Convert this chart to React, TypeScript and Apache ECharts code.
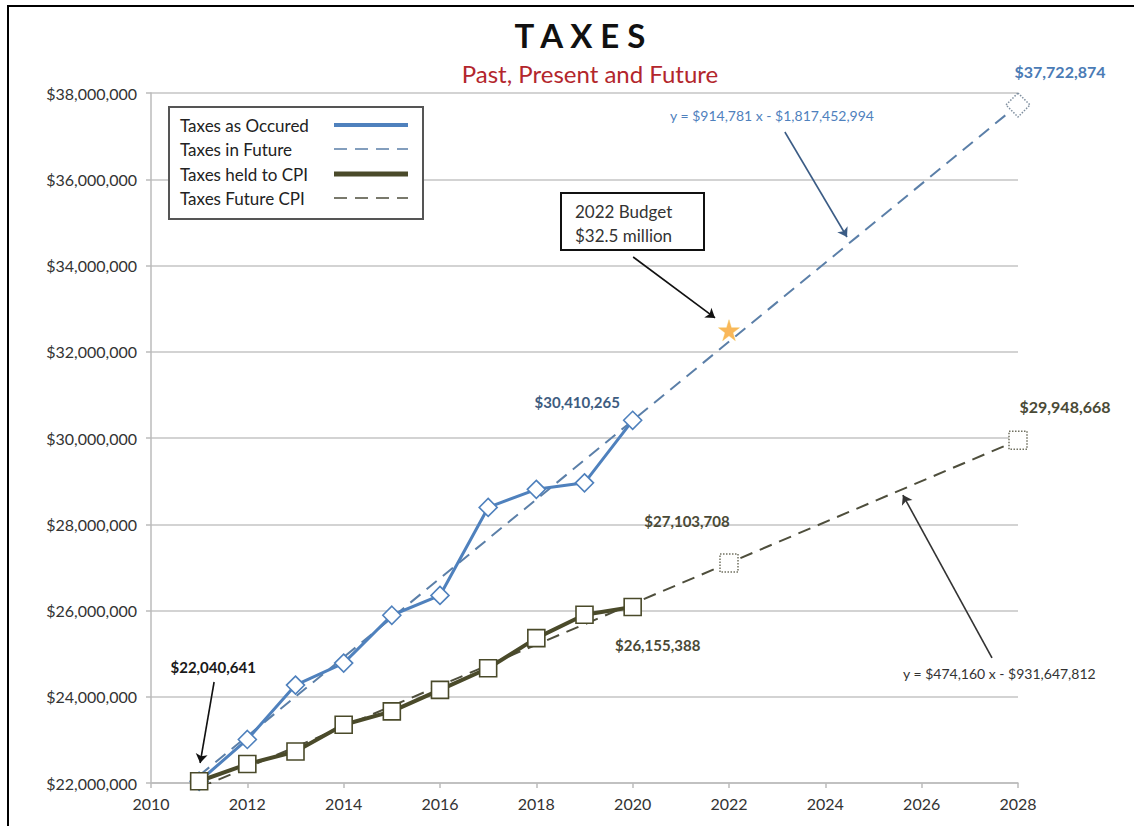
import React, { useEffect, useRef } from "react";
import * as echarts from "echarts";

// ---- data ----
const years = [2011, 2012, 2013, 2014, 2015, 2016, 2017, 2018, 2019, 2020];
const taxesOccured = [22040641, 23010000, 24270000, 24780000, 25890000, 26350000, 28390000, 28810000, 28960000, 30410265];
const taxesHeldCPI = [22040641, 22440000, 22730000, 23350000, 23660000, 24160000, 24660000, 25360000, 25900000, 26080000];
const futureYears = [2011, 2028];
const futureValues = [22171597, 37722874];
const futureCpiYears = [2011, 2020, 2022, 2028];
const futureCpiValues = [21887948, 26155388, 27103708, 29948668];
const budgetYear = 2022;
const budgetValue = 32500000;
const xMin = 2010;
const xMax = 2028;
const xStep = 2;
const yMin = 22000000;
const yMax = 38000000;
const yStep = 2000000;
const legendNames = ["Taxes as Occured", "Taxes in Future", "Taxes held to CPI", "Taxes Future CPI"];
const blueEquation = "y = $914,781 x - $1,817,452,994";
const cpiEquation = "y = $474,160 x - $931,647,812";

const FONT = "Lato, 'Liberation Sans', sans-serif";
const BLUE = "#4F81BD";
const OLIVE = "#4A4A2A";
const money = (v: number) => "$" + Math.round(v).toLocaleString("en-US");
const STAR = "path://M50,0 L61,35 L98,35 L68,57 L79,91 L50,70 L21,91 L32,57 L2,35 L39,35 Z";

export default function App() {
  const ref = useRef<HTMLDivElement>(null);
  useEffect(() => {
    if (!ref.current) return;
    const chart = echarts.init(ref.current, undefined, { renderer: "svg" });

    const labelStyle = (color: string, size = 15) => ({
      show: true,
      color,
      fontSize: size,
      fontWeight: "bold" as const,
      fontFamily: FONT,
      formatter: (p: any) => money(p.value[1]),
    });

    const blueActualData = years.map((y, i) => {
      const item: any = { value: [y, taxesOccured[i]] };
      if (i === 0) item.label = { ...labelStyle("#1a1a1a"), position: "top", offset: [14, -92] };
      if (i === years.length - 1) item.label = { ...labelStyle("#3E5C80"), position: "left", offset: [2, -18] };
      return item;
    });
    const cpiActualData = years.map((y, i) => ({ value: [y, taxesHeldCPI[i]] }));

    const blueFutureData = futureYears.map((y, i) => {
      const item: any = { value: [y, futureValues[i]] };
      if (i === 0) item.symbol = "none";
      else
        item.label = { ...labelStyle("#4A7BB5", 16), position: "top", offset: [42, -8] };
      return item;
    });

    const cpiFutureData = futureCpiYears.map((y, i) => {
      const item: any = { value: [y, futureCpiValues[i]] };
      if (y === 2011) item.symbol = "none";
      else if (y === 2020) {
        item.symbol = "circle";
        item.symbolSize = 1;
        item.itemStyle = { color: "rgba(0,0,0,0)", borderWidth: 0 };
        item.label = { ...labelStyle("#4A4A36"), position: "bottom", offset: [25, 28] };
      } else if (y === 2022) {
        item.label = { ...labelStyle("#4A4A36"), position: "top", offset: [-42, -20] };
      } else {
        item.label = { ...labelStyle("#4A4A36", 16), position: "top", offset: [47, -11] };
      }
      return item;
    });

    const arrow = (x1: number, y1: number, x2: number, y2: number, color: string) => [
      { coord: [x1, y1], lineStyle: { color, width: 1.6, type: "solid" } },
      { coord: [x2, y2] },
    ];

    const lg = { x: 169, y: 107, w: 254, h: 112 };
    const rows = [125, 149, 174, 198];

    chart.setOption({
      animation: false,
      backgroundColor: "#ffffff",
      textStyle: { fontFamily: FONT },
      grid: { left: 151, right: 116, top: 93, bottom: 43, containLabel: false },
      xAxis: {
        type: "value",
        min: xMin,
        max: xMax,
        interval: xStep,
        axisLine: { show: true, lineStyle: { color: "#BBBBBB", width: 1.5 } },
        axisTick: { show: true, inside: false, length: 5, lineStyle: { color: "#BBBBBB", width: 1.5 } },
        axisLabel: { color: "#333", fontSize: 16, fontFamily: FONT, margin: 12, formatter: (v: number) => String(v) },
        splitLine: { show: false },
      },
      yAxis: {
        type: "value",
        min: yMin,
        max: yMax,
        interval: yStep,
        axisLine: { show: true, lineStyle: { color: "#BBBBBB", width: 1.5 } },
        axisTick: { show: true, inside: false, length: 5, lineStyle: { color: "#BBBBBB", width: 1.5 } },
        axisLabel: { color: "#333", fontSize: 16, fontFamily: FONT, margin: 14, formatter: (v: number) => money(v) },
        splitLine: { show: true, lineStyle: { color: "#C4C4C4", width: 1.5 } },
      },
      series: [
        {
          name: legendNames[1],
          type: "line",
          data: blueFutureData,
          symbol: "diamond",
          symbolSize: 24,
          itemStyle: { color: "#ffffff", borderColor: "#8090A0", borderWidth: 1.5, borderType: "dotted" },
          lineStyle: { color: "#5B7FA8", width: 2, type: [13, 8] },
          z: 2,
        },
        {
          name: legendNames[3],
          type: "line",
          data: cpiFutureData,
          symbol: "rect",
          symbolSize: 18,
          itemStyle: { color: "#ffffff", borderColor: "#707060", borderWidth: 1.5, borderType: "dotted" },
          lineStyle: { color: "#4E4E3C", width: 2, type: [13, 8] },
          z: 2,
        },
        {
          name: legendNames[0],
          type: "line",
          data: blueActualData,
          symbol: "diamond",
          symbolSize: 18,
          itemStyle: { color: "#ffffff", borderColor: BLUE, borderWidth: 1.6 },
          lineStyle: { color: BLUE, width: 3 },
          z: 3,
        },
        {
          name: legendNames[2],
          type: "line",
          data: cpiActualData,
          symbol: "rect",
          symbolSize: 17,
          itemStyle: { color: "#ffffff", borderColor: OLIVE, borderWidth: 1.6 },
          lineStyle: { color: OLIVE, width: 4 },
          z: 4,
        },
        {
          name: "2022 Budget",
          type: "scatter",
          data: [[budgetYear, budgetValue]],
          symbol: STAR,
          symbolSize: 21,
          itemStyle: { color: "#F7A531", borderColor: "#F2C04A", borderWidth: 0.5 },
          z: 6,
          markLine: {
            silent: true,
            symbol: ["none", "arrow"],
            symbolSize: 9,
            label: { show: false },
            animation: false,
            data: [
              arrow(2011.31, 24342000, 2011.02, 22464000, "#111111"),
              arrow(2020.01, 34197000, 2021.71, 32783000, "#111111"),
              arrow(2023.16, 37096000, 2024.45, 34661000, "#3B5C85"),
              arrow(2027.46, 24899000, 2025.61, 28678000, "#333333"),
            ],
          },
        },
      ],
      graphic: [
        { type: "rect", shape: { x: 8, y: 5, width: 1126, height: 2 }, style: { fill: "#000" }, silent: true },
        { type: "rect", shape: { x: 7, y: 5, width: 2, height: 821 }, style: { fill: "#000" }, silent: true },
        {
          type: "text", x: 580, y: 35,
          style: { text: "T A X E S", fill: "#111", font: `bold 33px ${FONT}`, textAlign: "center", textVerticalAlign: "middle" },
        },
        {
          type: "text", x: 590, y: 73,
          style: { text: "Past, Present and Future", fill: "#B3262C", font: `24px ${FONT}`, textAlign: "center", textVerticalAlign: "middle" },
        },
        // legend
        {
          type: "rect", shape: { x: lg.x, y: lg.y, width: lg.w, height: lg.h },
          style: { fill: "#fff", stroke: "#555", lineWidth: 2 }, z: 10,
        },
        ...legendNames.map((n, i) => ({
          type: "text", x: 180, y: rows[i], z: 11,
          style: { text: n, fill: "#222", font: `17px ${FONT}`, textVerticalAlign: "middle" },
        })),
        { type: "line", z: 11, shape: { x1: 334, y1: rows[0], x2: 408, y2: rows[0] }, style: { stroke: BLUE, lineWidth: 4 } },
        { type: "line", z: 11, shape: { x1: 334, y1: rows[1], x2: 408, y2: rows[1] }, style: { stroke: "#5B7FA8", lineWidth: 1.5, lineDash: [13, 8] } },
        { type: "line", z: 11, shape: { x1: 334, y1: rows[2], x2: 408, y2: rows[2] }, style: { stroke: OLIVE, lineWidth: 5 } },
        { type: "line", z: 11, shape: { x1: 334, y1: rows[3], x2: 408, y2: rows[3] }, style: { stroke: "#4E4E3C", lineWidth: 1.5, lineDash: [13, 8] } },
        // budget box
        {
          type: "rect", shape: { x: 561, y: 193, width: 143, height: 57 },
          style: { fill: "#fff", stroke: "#111", lineWidth: 2 }, z: 10,
        },
        { type: "text", x: 575, y: 211, z: 11, style: { text: "2022 Budget", fill: "#333", font: `17px ${FONT}`, textVerticalAlign: "middle" } },
        { type: "text", x: 575, y: 235, z: 11, style: { text: "$32.5 million", fill: "#333", font: `17px ${FONT}`, textVerticalAlign: "middle" } },
        // equations
        { type: "text", x: 670, y: 115, z: 11, style: { text: blueEquation, fill: "#4F81BD", font: `14px ${FONT}`, textVerticalAlign: "middle" } },
        { type: "text", x: 903, y: 673, z: 11, style: { text: cpiEquation, fill: "#333", font: `14px ${FONT}`, textVerticalAlign: "middle" } },
      ],
    });
    return () => chart.dispose();
  }, []);
  return <div ref={ref} style={{ position: "absolute", left: 0, top: 0, width: 1134, height: 826 }} />;
}
